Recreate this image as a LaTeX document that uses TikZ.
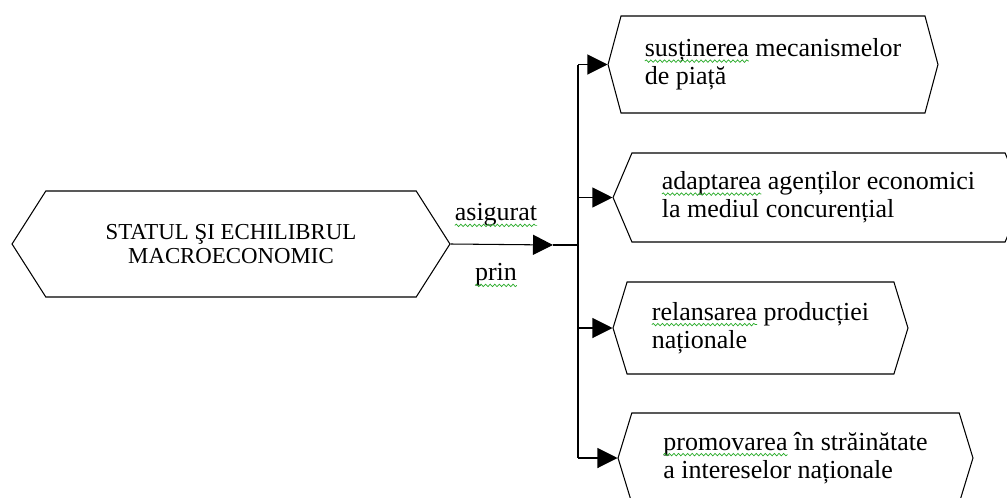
\documentclass[tikz,border=0pt]{standalone}
\usepackage{fontspec}
\setmainfont{Liberation Serif}
\usepackage{xcolor}
\usetikzlibrary{shapes.symbols,arrows.meta,decorations.pathmorphing}
\definecolor{spellgreen}{RGB}{40,170,40}
\newcommand\spell[1]{\tikz[baseline=(w.base)]{\node[shape=rectangle,draw=none,inner sep=0pt,outer sep=0pt,
        minimum width=0pt,minimum height=0pt] (w) {#1};
    \draw[overlay,spellgreen,line width=0.4pt,decorate,decoration={snake,amplitude=0.7pt,segment length=2.6pt}]
        ([yshift=-2.6pt]w.base west) -- ([yshift=-2.6pt]w.base east);}}

\begin{document}
\begin{tikzpicture}[x=0.02cm,y=-0.02cm,
    hexa/.style={draw,line width=0.6pt,signal,signal to=west and east,inner sep=0pt,
        align=left,font=\fontsize{14.8}{16.2}\selectfont},
    lab/.style={font=\fontsize{14.8}{16.2}\selectfont},
    tip/.style={-{Triangle[length=0.4cm,width=0.4cm]},line width=0.6pt}]
    \useasboundingbox (0,0) rectangle (1007,497);
    \node[hexa,signal pointer angle=115,minimum width=8.76cm,minimum height=2.12cm,
        align=center,font=\fontsize{13}{13.8}\selectfont] (stat) at (231,244)
        {STATUL ŞI ECHILIBRUL\\MACROECONOMIC};
    \node[hexa,signal pointer angle=150,minimum width=6.6cm,minimum height=1.94cm] (b1) at (773,64.5)
        {\spell{susținerea} mecanismelor\\de piață};
    \node[hexa,signal pointer angle=134,minimum width=8.22cm,minimum height=1.78cm] (b2) at (818.5,197.5)
        {\spell{adaptarea} agenților economici\\la mediul concurențial};
    \node[hexa,signal pointer angle=146,minimum width=5.9cm,minimum height=1.84cm] (b3) at (760.5,328)
        {\spell{relansarea} producției\\naționale};
    \node[hexa,signal pointer angle=146,minimum width=7.1cm,minimum height=1.8cm] (b4) at (795.5,458)
        {\spell{promovarea} în străinătate\\a intereselor naționale};
    \node[lab] (asig) at (496,215) {\spell{asigurat}};
    \node[lab] (prin) at (496,275) {\spell{prin}};
    % connectors
    \coordinate (m) at (553,245);
    \coordinate (j) at (578,245);
    \draw[tip] (stat.east) -- (m);
    \draw[line width=0.6pt] (m) -- (j);
    \draw[line width=0.6pt] (j|-b1.west) -- (j|-b4.west);
    \foreach \b in {b1,b2,b3,b4}
        \draw[tip] (j|-\b.west) -- (\b.west);
\end{tikzpicture}
\end{document}
